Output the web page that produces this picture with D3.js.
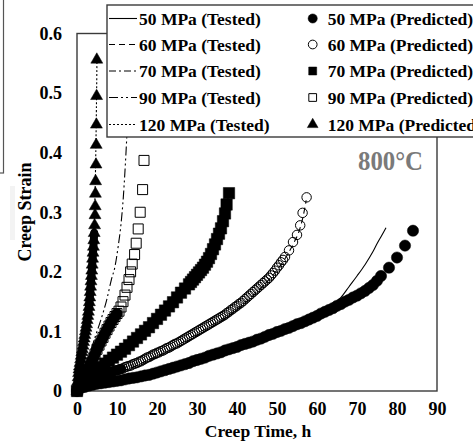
<!DOCTYPE html>
<html><head><meta charset="utf-8">
<script src="https://cdn.jsdelivr.net/npm/d3@7"></script>
<style>html,body{margin:0;padding:0;background:#fff;overflow:hidden}svg{display:block}</style>
</head><body>
<svg id="c" width="473" height="443"></svg>
<script>
// ---------- data ----------
const xTicks = [0,10,20,30,40,50,60,70,80,90];
const yTicks = [0,0.1,0.2,0.3,0.4,0.5,0.6];
const testedLabels = ["50 MPa (Tested)","60 MPa (Tested)","70 MPa (Tested)","90 MPa (Tested)","120 MPa (Tested)"];
const predictedLabels = ["50 MPa (Predicted)","60 MPa (Predicted)","70 MPa (Predicted)","90 MPa (Predicted)","120 MPa (Predicted)"];
const tempLabel = "800°C";

// tested curves [time h, strain]
const tested50 = [[0,0],[1,0.005],[3,0.009],[6,0.013],[10,0.017],[14,0.022],[18,0.027],[22,0.035],[26,0.043],[30,0.052],[34,0.061],[38,0.07],[42,0.079],[46,0.088],[50,0.099],[54,0.109],[58,0.12],[62,0.135],[64,0.145],[66,0.157],[68,0.175],[70,0.193],[72,0.212],[74,0.234],[75,0.247],[76,0.259],[77.25,0.274]];
const tested60 = [[0,0],[3,0.014],[8,0.026],[12,0.035],[18,0.052],[22,0.064],[26,0.077],[30,0.093],[34,0.109],[38,0.127],[42,0.148],[46,0.173],[50,0.203],[52,0.222],[54,0.246],[55.5,0.268],[56.5,0.292],[57.3,0.32]];
const tested70 = [[0,0],[2,0.016],[6,0.04],[10,0.061],[14,0.081],[18,0.104],[22,0.129],[26,0.16],[30,0.193],[33,0.221],[35,0.254],[36.5,0.284],[37.3,0.31],[37.8,0.325]];
const tested90 = [[0,0],[1,0.022],[2,0.042],[3,0.06],[3.8,0.075],[4.5,0.09],[6,0.12],[7.5,0.155],[8.6,0.187],[9.5,0.209],[10.3,0.243],[11,0.28],[11.6,0.327],[12,0.37],[12.4,0.42],[12.8,0.48]];
const tested120 = [[0,0],[0.5,0.035],[1,0.06],[2,0.1],[3,0.145],[3.5,0.185],[4,0.235],[4.4,0.3],[4.7,0.4],[4.9,0.5],[5,0.56]];

// predicted points [time h, strain]
const pred50 = [[0,0],[1,0.005],[2,0.007],[3,0.009],[4,0.0105],[5,0.012],[6,0.013],[7,0.014],[8,0.015],[9,0.016],[10,0.017],[11,0.018],[12,0.0195],[13,0.021],[14,0.022],[15,0.023],[16,0.0245],[17,0.026],[18,0.027],[19,0.029],[20,0.031],[21,0.033],[22,0.035],[23,0.037],[24,0.039],[25,0.041],[26,0.043],[27,0.045],[28,0.047],[29,0.05],[30,0.052],[31,0.054],[32,0.056],[33,0.059],[34,0.061],[35,0.063],[36,0.065],[37,0.068],[38,0.07],[39,0.072],[40,0.074],[41,0.077],[42,0.079],[43,0.081],[44,0.083],[45,0.086],[46,0.088],[47,0.091],[48,0.094],[49,0.096],[50,0.099],[51,0.101],[52,0.104],[53,0.106],[54,0.109],[55,0.112],[56,0.114],[57,0.117],[58,0.12],[59,0.123],[60,0.126],[61,0.13],[62,0.133],[63,0.136],[64,0.139],[65,0.143],[66,0.146],[67,0.15],[68,0.153],[69,0.157],[70,0.16],[71,0.164],[72,0.168],[73,0.173],[74,0.178],[75,0.185],[76,0.193],[78,0.207],[80,0.224],[82,0.244],[84,0.269]];
const pred60 = [[0,0],[1,0.007],[2,0.012],[3,0.016],[4,0.019],[5,0.022],[6,0.025],[7,0.028],[8,0.03],[9,0.033],[10,0.035],[10.5,0.036],[11,0.037],[11.5,0.038],[12,0.04],[12.5,0.041],[13,0.042],[13.5,0.043],[14,0.045],[14.5,0.046],[15,0.047],[15.5,0.049],[16,0.05],[16.5,0.052],[17,0.054],[17.5,0.056],[18,0.057],[18.5,0.059],[19,0.061],[19.5,0.062],[20,0.064],[20.5,0.065],[21,0.067],[21.5,0.068],[22,0.07],[22.5,0.072],[23,0.073],[23.5,0.075],[24,0.077],[24.5,0.079],[25,0.08],[25.5,0.082],[26,0.084],[26.5,0.086],[27,0.088],[27.5,0.09],[28,0.092],[28.5,0.094],[29,0.096],[29.5,0.098],[30,0.1],[30.5,0.102],[31,0.104],[31.5,0.106],[32,0.108],[32.5,0.11],[33,0.112],[33.5,0.114],[34,0.116],[34.5,0.118],[35,0.12],[35.5,0.122],[36,0.124],[36.5,0.126],[37,0.128],[37.5,0.131],[38,0.133],[38.5,0.136],[39,0.138],[39.5,0.141],[40,0.143],[40.5,0.146],[41,0.148],[41.5,0.151],[42,0.154],[42.5,0.157],[43,0.16],[43.5,0.163],[44,0.166],[44.5,0.169],[45,0.172],[45.5,0.175],[46,0.178],[46.5,0.181],[47,0.184],[47.5,0.187],[48,0.19],[48.5,0.194],[49,0.198],[49.5,0.202],[50,0.207],[50.5,0.211],[51,0.216],[51.5,0.22],[52,0.225],[53,0.236],[54,0.25],[55,0.262],[55.8,0.278],[56.4,0.299],[57.4,0.325]];
const pred70 = [[0,0],[1,0.008],[2,0.015],[3,0.022],[4,0.028],[5,0.034],[6,0.04],[7,0.046],[8,0.051],[9,0.056],[10,0.061],[11,0.066],[12,0.071],[13,0.077],[14,0.083],[15,0.089],[16,0.095],[17,0.101],[18,0.107],[19,0.114],[20,0.121],[21,0.128],[22,0.135],[23,0.142],[24,0.149],[25,0.157],[26,0.165],[27,0.172],[28,0.179],[28.5,0.183],[29,0.187],[29.5,0.191],[30,0.195],[30.5,0.199],[31,0.203],[31.5,0.207],[32,0.212],[32.5,0.217],[33,0.223],[33.5,0.23],[34,0.238],[34.5,0.246],[35,0.255],[35.5,0.264],[36,0.273],[36.5,0.285],[37,0.298],[37.4,0.313],[38,0.332]];
const pred90 = [[0,0],[0.5,0.01],[1,0.016],[1.5,0.022],[2,0.028],[2.5,0.034],[3,0.04],[3.5,0.047],[4,0.054],[4.5,0.062],[5,0.07],[5.5,0.077],[6,0.084],[6.5,0.09],[7,0.097],[7.5,0.103],[8,0.109],[8.5,0.115],[9,0.12],[9.5,0.125],[10,0.13],[10.5,0.134],[11,0.141],[11.5,0.15],[12,0.161],[12.5,0.174],[13,0.187],[13.4,0.2],[13.8,0.213],[14.4,0.229],[14.8,0.248],[15.3,0.272],[15.8,0.3],[16.4,0.338],[16.75,0.387]];
const pred120 = [[0,0],[0.1,0.008],[0.2,0.016],[0.3,0.023],[0.4,0.03],[0.5,0.036],[0.6,0.041],[0.75,0.047],[0.9,0.053],[1.05,0.059],[1.2,0.065],[1.35,0.07],[1.5,0.076],[1.65,0.082],[1.8,0.088],[1.95,0.094],[2.1,0.1],[2.25,0.106],[2.4,0.112],[2.55,0.119],[2.7,0.126],[2.85,0.133],[3,0.141],[3.1,0.149],[3.2,0.157],[3.3,0.166],[3.4,0.175],[3.5,0.184],[3.6,0.193],[3.7,0.202],[3.8,0.212],[3.9,0.222],[4,0.232],[4.1,0.242],[4.2,0.253],[4.3,0.265],[4.4,0.278],[4.5,0.295],[4.55,0.31],[4.6,0.331],[4.65,0.352],[4.75,0.38],[4.8,0.413],[4.85,0.447],[4.9,0.495],[4.95,0.556]];

// ---------- drawing ----------
const svg = d3.select("#c");
const FONT = "'Liberation Serif','Times New Roman',serif";
const x = d3.scaleLinear().domain([0,90]).range([77,437]);
const y = d3.scaleLinear().domain([0,0.6]).range([391,33.5]);

// stray artefacts at the left edge of the figure
svg.append("rect").attr("x",-60).attr("y",-10).attr("width",63.5).attr("height",183)
  .attr("fill","none").attr("stroke","#555").attr("stroke-width",1.2);
svg.append("rect").attr("x",10).attr("y",186).attr("width",5).attr("height",54).attr("fill","#f3f3f3");

// axes (labels only)
const yAxis = d3.axisLeft(y).tickValues(yTicks).tickSize(0).tickPadding(15)
  .tickFormat(d => d===0 ? "0" : d3.format(".1f")(d));
const gy = svg.append("g").attr("transform","translate(77,0)").call(yAxis);
const xAxis = d3.axisBottom(x).tickValues(xTicks).tickSize(0).tickPadding(11).tickFormat(d3.format("d"));
const gx = svg.append("g").attr("transform","translate(0,391)").call(xAxis);
[gx,gy].forEach(g => {
  g.select(".domain").remove();
  g.selectAll("text").attr("font-family",FONT).attr("font-size",18).attr("font-weight","bold").attr("fill","#000");
});

// frame
svg.append("rect").attr("x",x(0)).attr("y",y(0.6)).attr("width",x(90)-x(0)).attr("height",y(0)-y(0.6))
  .attr("fill","none").attr("stroke","#3a3a3a").attr("stroke-width",1.4);

// axis titles
svg.append("text").attr("x",258).attr("y",437).attr("text-anchor","middle")
  .attr("font-family",FONT).attr("font-size",17.5).attr("font-weight","bold").text("Creep Time, h");
svg.append("text").attr("transform","translate(31,212) rotate(-90)").attr("text-anchor","middle")
  .attr("font-family",FONT).attr("font-size",18).attr("font-weight","bold").text("Creep Strain");

// temperature label
svg.append("text").attr("x",423).attr("y",170).attr("text-anchor","end")
  .attr("font-family",FONT).attr("font-size",28).attr("font-weight","bold").attr("fill","#7a7a7a")
  .attr("textLength",65).attr("lengthAdjust","spacingAndGlyphs").text(tempLabel);

const dashes = [null,"6,4","7,3,2,3","9,3,2,3,2,3","2,2"];
const line = d3.line().x(d=>x(d[0])).y(d=>y(d[1])).curve(d3.curveMonotoneX);

// tested lines
const testedSets = [tested50,tested60,tested70,tested90,tested120];
testedSets.forEach((data,i) => {
  svg.append("path").datum(data).attr("d",line).attr("fill","none")
    .attr("stroke","#000").attr("stroke-width",1.1)
    .attr("stroke-dasharray",dashes[i]);
});

// predicted markers
const sym = {
  circle: d3.symbol().type(d3.symbolCircle).size(100),
  ocircle: d3.symbol().type(d3.symbolCircle).size(70),
  square: d3.symbol().type(d3.symbolSquare).size(130),
  osquare: d3.symbol().type(d3.symbolSquare).size(100),
  triangle: d3.symbol().type(d3.symbolTriangle).size(62)
};
function drawPred(data, kind, solidUntil, bandW){
  if (solidUntil != null) {
    svg.append("path").datum(data.filter(d=>d[0]<=solidUntil)).attr("d",line)
      .attr("fill","none").attr("stroke","#000").attr("stroke-width",bandW).attr("stroke-linecap","round");
  }
  const hollow = kind==="ocircle"||kind==="osquare";
  svg.append("g").selectAll("path").data(data).join("path")
    .attr("transform",d=>`translate(${x(d[0])},${y(d[1])})`)
    .attr("d",sym[kind]())
    .attr("fill",hollow?"none":"#000")
    .attr("stroke","#000").attr("stroke-width",hollow?1:0.5);
}
drawPred(pred60,"ocircle",11,10);
drawPred(pred50,"circle");
drawPred(pred90,"osquare",10,11);
drawPred(pred70,"square");
drawPred(pred120,"triangle",4.3,8);

// legend
const lg = svg.append("g");
lg.append("rect").attr("x",107).attr("y",5).attr("width",420).attr("height",132)
  .attr("fill","#fff").attr("stroke","#3a3a3a").attr("stroke-width",1.4);
const rowY = [18.5,44.5,71,97.5,124.5];
const legKinds = ["circle","ocircle","square","osquare","triangle"];
const legTypes = {circle:d3.symbolCircle,ocircle:d3.symbolCircle,square:d3.symbolSquare,osquare:d3.symbolSquare,triangle:d3.symbolTriangle};
const legSizes = {circle:66,ocircle:60,square:64,osquare:60,triangle:50};
testedLabels.forEach((t,i) => {
  lg.append("line").attr("x1",109).attr("x2",137).attr("y1",rowY[i]).attr("y2",rowY[i])
    .attr("stroke","#000").attr("stroke-width",1.1).attr("stroke-dasharray",dashes[i]);
  lg.append("text").attr("x",139).attr("y",rowY[i]).attr("dy","0.35em")
    .attr("font-family",FONT).attr("font-size",17.5).attr("font-weight","bold").text(t);
});
predictedLabels.forEach((t,i) => {
  const k = legKinds[i];
  const hollow = k==="ocircle"||k==="osquare";
  lg.append("path").attr("transform",`translate(312.7,${rowY[i]})`)
    .attr("d",d3.symbol().type(legTypes[k]).size(legSizes[k])())
    .attr("fill",hollow?"#fff":"#000").attr("stroke","#000").attr("stroke-width",hollow?1:0.5);
  lg.append("text").attr("x",327.7).attr("y",rowY[i]).attr("dy","0.35em")
    .attr("font-family",FONT).attr("font-size",17.5).attr("font-weight","bold").text(t);
});
</script>
</body></html>
